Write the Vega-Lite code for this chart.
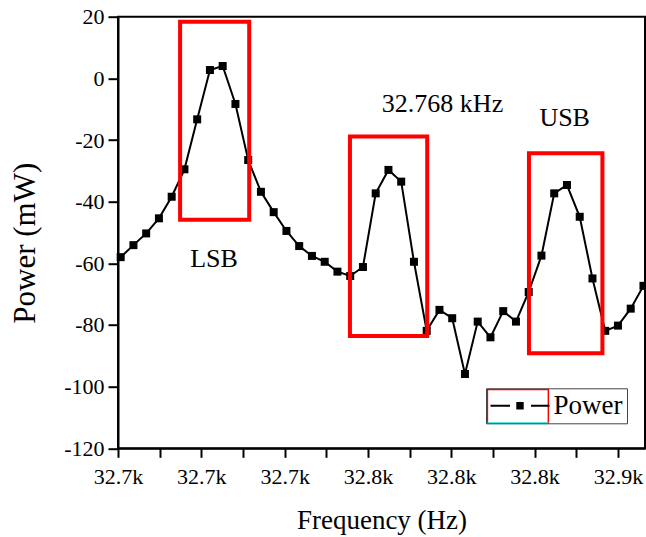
{
  "$schema": "https://vega.github.io/schema/vega-lite/v6.json",
  "width": 527,
  "height": 431.6,
  "autosize": {"type": "none"},
  "padding": {"left": 118, "top": 16.7, "right": 1, "bottom": 88.7},
  "background": "white",
  "config": {
    "view": {"stroke": "black", "strokeWidth": 2},
    "font": "Liberation Serif",
    "axis": {"labelFont": "Liberation Serif", "titleFont": "Liberation Serif", "labelFontSize": 22, "labelColor": "black"},
    "legend": {"labelFont": "Liberation Serif"}
  },
  "datasets": {
    "series": [
      {"f": 32663, "p": -58.0}, {"f": 32668, "p": -54.1}, {"f": 32673, "p": -50.3},
      {"f": 32678, "p": -45.4}, {"f": 32683, "p": -38.4}, {"f": 32688, "p": -29.5},
      {"f": 32693, "p": -13.3}, {"f": 32698, "p": 2.7}, {"f": 32703, "p": 4.0},
      {"f": 32708, "p": -8.3}, {"f": 32713, "p": -26.5}, {"f": 32718, "p": -36.8},
      {"f": 32723, "p": -43.4}, {"f": 32728, "p": -49.5}, {"f": 32733, "p": -54.4},
      {"f": 32738, "p": -57.6}, {"f": 32743, "p": -59.5}, {"f": 32748, "p": -62.7},
      {"f": 32753, "p": -64.1}, {"f": 32758, "p": -61.2}, {"f": 32763, "p": -37.3},
      {"f": 32768, "p": -29.7}, {"f": 32773, "p": -33.5}, {"f": 32778, "p": -59.5},
      {"f": 32783, "p": -81.9}, {"f": 32788, "p": -75.1}, {"f": 32793, "p": -77.8},
      {"f": 32798, "p": -95.9}, {"f": 32803, "p": -78.9}, {"f": 32808, "p": -84.0},
      {"f": 32813, "p": -75.5}, {"f": 32818, "p": -78.9}, {"f": 32823, "p": -69.3},
      {"f": 32828, "p": -57.5}, {"f": 32833, "p": -37.3}, {"f": 32838, "p": -34.6},
      {"f": 32843, "p": -44.9}, {"f": 32848, "p": -64.9}, {"f": 32853, "p": -81.9},
      {"f": 32858, "p": -80.2}, {"f": 32863, "p": -74.7}, {"f": 32868, "p": -67.3}
    ],
    "boxes": [
      {"x1": 32686.3, "x2": 32713.4, "y1": 18.4, "y2": -45.9},
      {"x1": 32752.9, "x2": 32783.2, "y1": -18.9, "y2": -83.6},
      {"x1": 32823.1, "x2": 32851.9, "y1": -24.3, "y2": -89.2}
    ],
    "notes": [
      {"f": 32699.6, "p": -61.3, "text": "LSB"},
      {"f": 32789.2, "p": -10.8, "text": "32.768 kHz"},
      {"f": 32837.1, "p": -15.45, "text": "USB"}
    ],
    "legendmark": [
      {"x1": 32806.8, "x2": 32830.7, "y1": -100.9, "y2": -111.9}
    ]
  },
  "layer": [
    {
      "data": {"name": "series"},
      "mark": {"type": "line", "strokeWidth": 2},
      "encoding": {
        "x": {
          "field": "f", "type": "quantitative",
          "scale": {"domain": [32661.95, 32868.6], "nice": false, "zero": false},
          "axis": {
            "values": [32661.95, 32678.285, 32694.62, 32710.955, 32727.29, 32743.625, 32759.96, 32776.295, 32792.63, 32808.965, 32825.3, 32841.635, 32857.97],
            "labelExpr": "round(datum.index*12) % 2 ? '' : format(datum.value, '.3s')",
            "tickSize": 9,
            "title": "Frequency (Hz)",
            "titleFont": "Liberation Serif", "titleFontSize": 27, "titleFontWeight": "normal", "titleColor": "black",
            "titleX": 263.5, "titleY": 80, "titleBaseline": "alphabetic", "titleAlign": "center",
            "labelFont": "Liberation Serif", "labelFontSize": 22, "labelColor": "black", "labelPadding": 9,
            "labelFlush": false, "labelOverlap": false,
            "domainColor": "black", "domainWidth": 2, "tickColor": "black", "tickWidth": 2, "grid": false,
            "encode": {"ticks": {"update": {"y2": {"signal": "round(datum.index*12) % 2 ? 4 : 9"}}}}
          }
        },
        "y": {
          "field": "p", "type": "quantitative",
          "scale": {"domain": [-120, 20], "nice": false, "zero": false},
          "axis": {
            "values": [20, 10, 0, -10, -20, -30, -40, -50, -60, -70, -80, -90, -100, -110, -120],
            "labelExpr": "datum.value % 20 ? '' : '' + datum.value",
            "tickSize": 10,
            "title": "Power (mW)",
            "titleFont": "Liberation Serif", "titleFontSize": 31, "titleFontWeight": "normal", "titleColor": "black",
            "titleX": -84, "titleY": 226, "titleBaseline": "alphabetic", "titleAlign": "center", "titleAngle": -90,
            "labelFont": "Liberation Serif", "labelFontSize": 22, "labelColor": "black", "labelPadding": 4,
            "labelOverlap": false,
            "domainColor": "black", "domainWidth": 2, "tickColor": "black", "tickWidth": 2, "grid": false,
            "encode": {"ticks": {"update": {"x2": {"signal": "datum.value % 20 ? -4 : -10"}}}}
          }
        },
        "color": {
          "datum": "Power",
          "scale": {"range": ["black"]},
          "legend": {
            "orient": "none", "legendX": 368, "legendY": 371.6,
            "title": null,
            "strokeColor": "#444444", "padding": 4,
            "symbolType": "M-2.95,0H-1M1.1,0H2.95M-0.27,-0.27H0.27V0.27H-0.27Z",
            "symbolSize": 400, "symbolOffset": 16.5, "symbolStrokeWidth": 2,
            "labelOffset": 20, "labelFont": "Liberation Serif", "labelFontSize": 27, "labelColor": "black",
            "encode": {"symbols": {"update": {"fill": {"value": "black"}, "stroke": {"value": "black"}, "strokeWidth": {"value": 2}}}}
          }
        }
      }
    },
    {
      "data": {"name": "series"},
      "mark": {"type": "point", "shape": "square", "filled": true, "size": 64, "color": "black", "opacity": 1},
      "encoding": {
        "x": {"field": "f", "type": "quantitative"},
        "y": {"field": "p", "type": "quantitative"}
      }
    },
    {
      "data": {"name": "boxes"},
      "mark": {"type": "rect", "filled": false, "stroke": "#ff0000", "strokeWidth": 4},
      "encoding": {
        "x": {"field": "x1", "type": "quantitative"},
        "x2": {"field": "x2"},
        "y": {"field": "y1", "type": "quantitative"},
        "y2": {"field": "y2"}
      }
    },
    {
      "data": {"name": "notes"},
      "mark": {"type": "text", "font": "Liberation Serif", "fontSize": 26, "color": "black", "align": "center", "baseline": "alphabetic"},
      "encoding": {
        "x": {"field": "f", "type": "quantitative"},
        "y": {"field": "p", "type": "quantitative"},
        "text": {"field": "text"}
      }
    },
    {
      "data": {"name": "legendmark"},
      "mark": {"type": "rect", "filled": false, "stroke": "#ff0000", "strokeWidth": 1.5},
      "encoding": {
        "x": {"field": "x1", "type": "quantitative"},
        "x2": {"field": "x2"},
        "y": {"field": "y1", "type": "quantitative"},
        "y2": {"field": "y2"}
      }
    },
    {
      "data": {"name": "legendmark"},
      "mark": {"type": "rule", "stroke": "#22ffff", "strokeWidth": 2},
      "encoding": {
        "x": {"field": "x1", "type": "quantitative"},
        "x2": {"field": "x2"},
        "y": {"field": "y2", "type": "quantitative"}
      }
    }
  ]
}
